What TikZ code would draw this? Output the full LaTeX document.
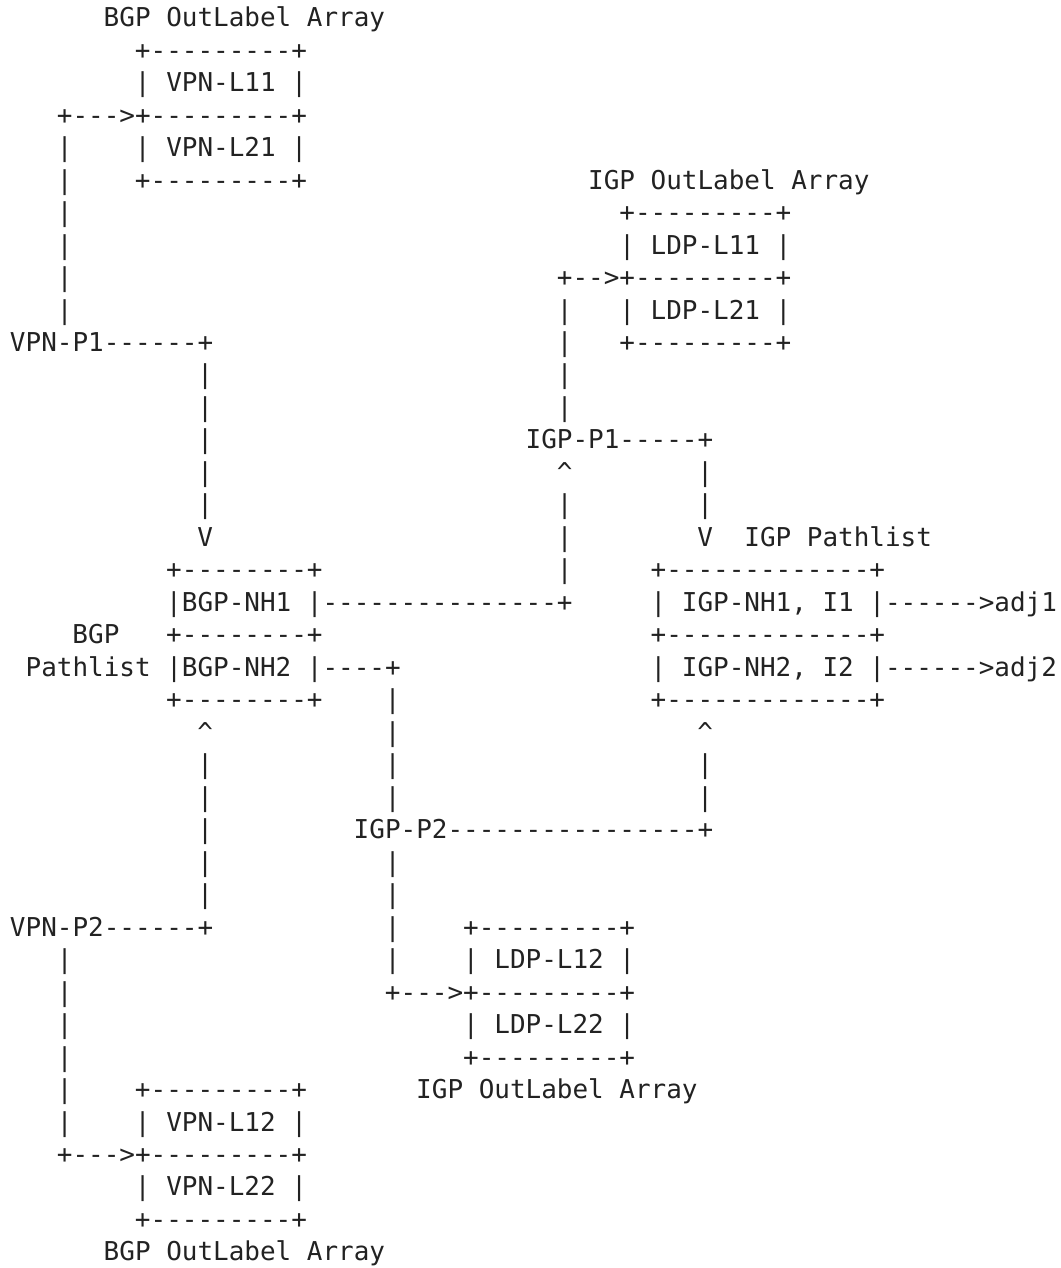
\documentclass[tikz,border=0pt]{standalone}
\usepackage{fontspec}
\setmonofont{DejaVu Sans Mono}
\definecolor{inkgray}{RGB}{34,34,34}
\newcommand\asciifont{\ttfamily\fontsize{12.98pt}{15pt}\selectfont}
\tikzset{asc/.style={anchor=base west, inner sep=0pt, outer sep=0pt, text=inkgray, font=\asciifont}}
\begin{document}
\begin{tikzpicture}[x=7.8125pt,y=-16.24pt]
\useasboundingbox (-0.64,-0.822) rectangle (67.264,38.218);

% BGP OutLabel Array (top)
\node[asc] (bgpoa1) at (6,0) {BGP OutLabel Array};
\node[asc] (vpnt1) at (8,1) {+---------+};
\node[asc] (vpnl11) at (8,2) {| VPN-L11 |};
\node[asc] (vpna1) at (3,3) {+--->+---------+};
\node[asc] (p3r4) at (3,4) {|};
\node[asc] (vpnl21) at (8,4) {| VPN-L21 |};
\node[asc] (p3r5) at (3,5) {|};
\node[asc] (vpnb1) at (8,5) {+---------+};

% IGP OutLabel Array (top)
\node[asc] (igpoa1) at (37,5) {IGP OutLabel Array};
\node[asc] (p3r6) at (3,6) {|};
\node[asc] (ldpt1) at (39,6) {+---------+};
\node[asc] (p3r7) at (3,7) {|};
\node[asc] (ldpl11) at (39,7) {| LDP-L11 |};
\node[asc] (p3r8) at (3,8) {|};
\node[asc] (ldpa1) at (35,8) {+-->+---------+};
\node[asc] (p3r9) at (3,9) {|};
\node[asc] (p35r9) at (35,9) {|};
\node[asc] (ldpl21) at (39,9) {| LDP-L21 |};

% VPN-P1 and IGP-P1
\node[asc] (vpnp1) at (0,10) {VPN-P1------+};
\node[asc] (p35r10) at (35,10) {|};
\node[asc] (ldpb1) at (39,10) {+---------+};
\node[asc] (p12r11) at (12,11) {|};
\node[asc] (p35r11) at (35,11) {|};
\node[asc] (p12r12) at (12,12) {|};
\node[asc] (p35r12) at (35,12) {|};
\node[asc] (p12r13) at (12,13) {|};
\node[asc] (igpp1) at (33,13) {IGP-P1-----+};
\node[asc] (p12r14) at (12,14) {|};
\node[asc] (up35r14) at (35,14) {\textasciicircum};
\node[asc] (p44r14) at (44,14) {|};
\node[asc] (p12r15) at (12,15) {|};
\node[asc] (p35r15) at (35,15) {|};
\node[asc] (p44r15) at (44,15) {|};
\node[asc] (dn12r16) at (12,16) {V};
\node[asc] (p35r16) at (35,16) {|};
\node[asc] (dn44r16) at (44,16) {V};
\node[asc] (igppl) at (47,16) {IGP Pathlist};

% BGP Pathlist and IGP Pathlist
\node[asc] (bgpt) at (10,17) {+--------+};
\node[asc] (p35r17) at (35,17) {|};
\node[asc] (igpt) at (41,17) {+-------------+};
\node[asc] (bgpnh1) at (10,18) {|BGP-NH1 |---------------+};
\node[asc] (igpnh1) at (41,18) {| IGP-NH1, I1 |------>adj1};
\node[asc] (bgplbl) at (4,19) {BGP};
\node[asc] (bgpm) at (10,19) {+--------+};
\node[asc] (igpm) at (41,19) {+-------------+};
\node[asc] (bgpnh2) at (1,20) {Pathlist |BGP-NH2 |----+};
\node[asc] (igpnh2) at (41,20) {| IGP-NH2, I2 |------>adj2};
\node[asc] (bgpb) at (10,21) {+--------+};
\node[asc] (p24r21) at (24,21) {|};
\node[asc] (igpb) at (41,21) {+-------------+};

% IGP-P2 and VPN-P2
\node[asc] (up12r22) at (12,22) {\textasciicircum};
\node[asc] (p24r22) at (24,22) {|};
\node[asc] (up44r22) at (44,22) {\textasciicircum};
\node[asc] (p12r23) at (12,23) {|};
\node[asc] (p24r23) at (24,23) {|};
\node[asc] (p44r23) at (44,23) {|};
\node[asc] (p12r24) at (12,24) {|};
\node[asc] (p24r24) at (24,24) {|};
\node[asc] (p44r24) at (44,24) {|};
\node[asc] (p12r25) at (12,25) {|};
\node[asc] (igpp2) at (22,25) {IGP-P2----------------+};
\node[asc] (p12r26) at (12,26) {|};
\node[asc] (p24r26) at (24,26) {|};
\node[asc] (p12r27) at (12,27) {|};
\node[asc] (p24r27) at (24,27) {|};
\node[asc] (vpnp2) at (0,28) {VPN-P2------+};
\node[asc] (p24r28) at (24,28) {|};

% IGP OutLabel Array (bottom)
\node[asc] (ldpt2) at (29,28) {+---------+};
\node[asc] (p3r29) at (3,29) {|};
\node[asc] (p24r29) at (24,29) {|};
\node[asc] (ldpl12) at (29,29) {| LDP-L12 |};
\node[asc] (p3r30) at (3,30) {|};
\node[asc] (ldpa2) at (24,30) {+--->+---------+};
\node[asc] (p3r31) at (3,31) {|};
\node[asc] (ldpl22) at (29,31) {| LDP-L22 |};
\node[asc] (p3r32) at (3,32) {|};
\node[asc] (ldpb2) at (29,32) {+---------+};
\node[asc] (igpoa2) at (26,33) {IGP OutLabel Array};

% BGP OutLabel Array (bottom)
\node[asc] (p3r33) at (3,33) {|};
\node[asc] (vpnt2) at (8,33) {+---------+};
\node[asc] (p3r34) at (3,34) {|};
\node[asc] (vpnl12) at (8,34) {| VPN-L12 |};
\node[asc] (vpna2) at (3,35) {+--->+---------+};
\node[asc] (vpnl22) at (8,36) {| VPN-L22 |};
\node[asc] (vpnb2) at (8,37) {+---------+};
\node[asc] (bgpoa2) at (6,38) {BGP OutLabel Array};
\end{tikzpicture}
\end{document}
